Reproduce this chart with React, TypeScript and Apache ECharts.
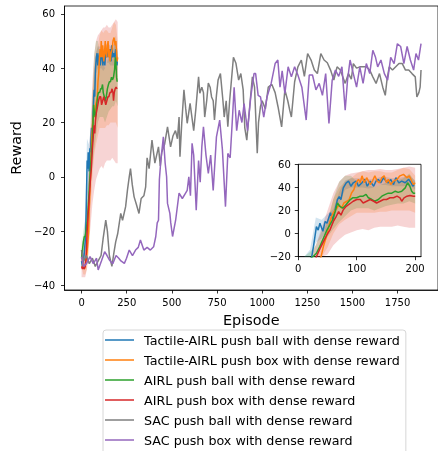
import React, { useEffect, useRef } from "react";
import * as echarts from "echarts";

// ---------- data (episode, reward) ----------
const seriesNames = [
  "Tactile-AIRL push ball with dense reward",
  "Tactile-AIRL push box with dense reward",
  "AIRL push ball with dense reward",
  "AIRL push box with dense reward",
  "SAC push ball with dense reward",
  "SAC push box with dense reward",
];

const tactileBall: [number, number][] = [
  [0,-31],[5,-33],[10,-31],[15,-28],[20,-24],[23,-20],[26,-11],[31,6],[34,3],[37,9],[42,2],[46,10.5],[49,9],[51,12],[55,18],[59,12],[63,20.7],[67,29.5],[70,32],[73,29.5],[77,39.6],[82,44],[86,45.5],[90,41],[94,44],[99,45.5],[103,41],[109,44],[114,47],[118,41],[123,45.5],[129,41],[133,45.5],[137,47],[141,44],[146,48.4],[150,45.5],[154,44],[158,47],[163,42.5],[167,48.4],[172,44],[177,45.5],[183,44],[189,47],[193,44],[196,41],[198,42.5],
];
const tactileBox: [number, number][] = [
  [0,-27],[5,-31],[10,-33],[15,-34],[20,-33],[25,-31],[30,-28],[35,-24],[39,-20],[43,-11],[49,-1],[53,7.6],[57,15],[61,19],[66,22],[70,25],[74,22],[78,26.5],[83,28],[87,29.5],[91,35],[95,38],[99,44],[103,47],[106,44],[109,50],[113,44],[117,48.4],[123,42.5],[127,45.5],[131,50],[135,45.5],[139,44],[143,48.4],[147,50],[151,44],[154,47],[158,42.5],[163,45.5],[169,47],[174,50],[180,51.3],[186,48.4],[190,50],[194,45.5],[197,42.5],[200,44],
];
const airlBall: [number, number][] = [
  [0,-30],[5,-27],[10,-24],[15,-22],[20,-22],[25,-20],[31,-17],[37,-11],[43,-4],[49,3],[54,7.6],[59,12],[63,19],[67,26.5],[71,23.6],[76,22],[80,24],[84,26.5],[89,29.5],[93,31],[100,31],[106,32.4],[111,32.4],[116,34],[120,31],[126,29.5],[131,28],[137,29.5],[143,32.4],[149,34],[154,35],[160,35],[166,36.7],[171,35.7],[177,36.7],[183,39.6],[187,44],[191,41],[194,36.7],[197,35],[200,35],
];
const airlBox: [number, number][] = [
  [0,-33],[5,-34],[10,-33],[15,-34],[20,-33],[25,-30],[31,-20],[37,-13],[43,-7],[49,-1],[54,3],[60,10.5],[65,15],[69,19],[73,16],[77,20.7],[82,23.6],[86,25],[90,26.5],[94,28],[100,29.5],[106,29.5],[111,26.5],[117,28],[123,29.5],[129,28],[134,26.5],[140,28],[146,29.5],[151,29.5],[157,31],[163,31],[169,32.4],[174,31],[177,28],[181,31],[186,32.4],[191,33],[197,32.4],[200,32.4],
];
const sacBall: [number, number][] = [
  [0,-27],[11,-31],[27,-29],[43,-32],[60,-30],[76,-33],[92,-31],[108,-29],[119,-23],[134,-16],[143,-20],[154,-29],[168,-33],[179,-28],[189,-24],[200,-21],[217,-13.5],[227,-16],[244,-11],[254,-5],[264,0],[271,3],[281,-3],[291,-7.4],[303,-10],[318,-13.5],[330,-8],[345,-7],[355,-3.7],[363,7],[374,3],[390,13.5],[406,5],[426,11],[436,4],[444,9],[460,12],[476,18.4],[493,11],[506,15],[520,17],[531,14],[540,22],[545,7.4],[555,20],[567,32],[577,25],[585,19.7],[601,27],[621,17],[633,25],[648,36.8],[655,30.8],[666,33],[675,31],[682,22],[693,28],[702,34.5],[712,33],[720,29.4],[729,28],[736,20.9],[747,30],[756,35.6],[769,38],[783,28],[790,22],[801,28],[810,18.4],[820,28],[828,34],[841,44],[855,41.8],[870,35.6],[882,38],[895,32],[904,18],[915,13.5],[926,22],[946,36.8],[958,33],[973,8.7],[980,20],[991,26],[1000,28],[1018,25],[1034,33],[1054,34],[1072,31],[1088,25.8],[1108,18.4],[1126,32],[1142,28],[1153,24.5],[1162,22],[1180,35],[1198,40.5],[1217,43],[1234,37],[1252,45.4],[1271,43],[1289,39.3],[1306,38],[1325,45.4],[1343,43],[1361,42],[1379,39.3],[1397,35.6],[1415,40.5],[1433,39.3],[1451,36],[1460,34.4],[1478,38],[1494,36],[1505,41.7],[1523,40],[1541,40.5],[1559,40.5],[1577,40.5],[1596,39.3],[1613,36.8],[1631,34.4],[1650,38],[1668,33],[1682,30],[1692,36],[1704,40.5],[1722,39.3],[1740,40.5],[1758,41.7],[1776,41.7],[1794,39.3],[1812,39.3],[1830,38],[1848,36.8],[1857,29.4],[1868,31],[1875,33],[1880,39.3],
];
const sacBox: [number, number][] = [
  [0,-29.4],[11,-33],[27,-32],[47,-29.4],[65,-32],[83,-30],[92,-34.3],[110,-31],[128,-27.6],[141,-29],[155,-30.7],[173,-32],[191,-29],[206,-30],[218,-31],[237,-31.9],[249,-30],[264,-27],[282,-29],[299,-27],[314,-26],[326,-23.3],[345,-27],[363,-26],[381,-27],[399,-25.8],[411,-22],[419,-17],[426,-16],[431,-1],[439,6],[453,14.7],[463,5],[471,0],[476,-9.8],[489,-13.5],[494,-17],[504,-22],[521,-16],[540,-6],[558,-8],[576,-6],[585,-5],[594,0],[603,-7],[612,12.3],[621,8],[630,-5],[635,-12.3],[648,6],[657,-2],[666,11],[675,18.4],[689,8],[702,1.2],[715,8],[729,-5],[747,14.7],[765,20.9],[780,10],[797,-11],[810,8.6],[823,7],[834,19.6],[845,33],[859,17],[873,24.5],[888,20],[900,27],[919,17],[937,29.4],[955,38],[964,38],[978,30],[991,29.4],[1009,22],[1027,29.4],[1050,34.4],[1072,41.7],[1087,43],[1099,33],[1111,39],[1126,30.7],[1144,40.5],[1162,36.8],[1180,40.5],[1198,37.5],[1220,33],[1244,20.9],[1261,37.5],[1279,37.5],[1298,32],[1316,34.4],[1334,30],[1352,38],[1370,19.6],[1388,35.6],[1406,39.3],[1424,37],[1442,40.5],[1460,24.5],[1473,35.6],[1487,43],[1505,38],[1523,33],[1541,40.5],[1559,34.4],[1577,41.7],[1596,38],[1613,46.6],[1628,44],[1640,40.5],[1658,43],[1677,38],[1695,35.6],[1712,44],[1731,41.7],[1749,49],[1767,48],[1785,41.7],[1803,48],[1821,43],[1839,39.3],[1852,45.4],[1866,43],[1880,49],
];

// shaded bands (episode grid shared by all bands)
const bandEp = [0,10,20,30,40,50,60,70,80,90,100,110,120,130,140,150,160,170,180,190,200];
const tactileBallLower = [-34,-34,-30,-8,-4,5,9,26,38,40,40,40,39,40,42,42,41,41,41,42,38];
const tactileBallUpper = [-28,-28,-14,14,12,17,21,36,46,48,48,48,47,47,49,49,48,48,49,50,46];
const tactileBoxLower = [-33,-36,-36,-34,-28,-12,0,8,12,15,18,18,18,18,19,19,20,20,20,20,18];
const tactileBoxUpper = [-22,-28,-28,-20,-8,12,30,40,45,48,52,54,53,54,54,53,53,55,57,56,50];
const airlBallLower = [-33,-30,-28,-22,-12,-3,4,10,15,20,22,22,22,20,22,24,25,26,26,28,26];
const airlBallUpper = [-26,-20,-16,-10,2,10,30,45,50,50,45,44,42,40,42,44,45,46,48,52,45];
const airlBoxLower = [-37,-37,-37,-34,-25,-18,-10,-5,-1,1,3,4,3,5,6,6,6,7,6,5,5];
const airlBoxUpper = [-29,-29,-28,-10,5,20,35,45,50,52,53,54,55,55,56,55,55,56,57,58,57];

// tick labels
const mainXTicks = [0, 250, 500, 750, 1000, 1250, 1500, 1750];
const mainYTicks = [-40, -20, 0, 20, 40, 60];
const insetXTicks = [0, 100, 200];
const insetYTicks = [-20, 0, 20, 40, 60];

const colors = ["#1f77b4", "#ff7f0e", "#2ca02c", "#d62728", "#7f7f7f", "#9467bd"];
const FONT = "DejaVu Sans";

const fmt = (v: number) => String(v).replace("-", "\u2212");

function bandSeries(lower: number[], upper: number[], color: string, gi: number) {
  return {
    type: "custom",
    xAxisIndex: gi,
    yAxisIndex: gi,
    silent: true,
    z: 1,
    data: [[0, 0]],
    renderItem: (params: any, api: any) => {
      const cs = params.coordSys;
      const cl = (p: number[]) => [
        Math.min(Math.max(p[0], cs.x), cs.x + cs.width),
        Math.min(Math.max(p[1], cs.y), cs.y + cs.height),
      ];
      const pts: number[][] = [];
      for (let i = 0; i < bandEp.length; i++) pts.push(cl(api.coord([bandEp[i], upper[i]])));
      for (let i = bandEp.length - 1; i >= 0; i--) pts.push(cl(api.coord([bandEp[i], lower[i]])));
      return {
        type: "polygon",
        shape: { points: pts },
        style: { fill: color, opacity: 0.2, stroke: "none" },
      };
    },
  };
}

function lineSeries(name: string, data: [number, number][], color: string, gi: number, z: number) {
  return {
    type: "line",
    name,
    xAxisIndex: gi,
    yAxisIndex: gi,
    data,
    showSymbol: false,
    symbol: "none",
    clip: true,
    silent: true,
    z,
    lineStyle: { width: 1.5, color },
    itemStyle: { color },
  };
}

function axisCommon(ticks: number[], margin: number) {
  return {
    axisLine: { show: true, onZero: false, lineStyle: { color: "#000", width: 0.8 } },
    axisTick: { show: true, inside: false, length: 3.5, customValues: ticks, lineStyle: { color: "#000", width: 0.8 } },
    axisLabel: {
      show: true,
      customValues: ticks,
      formatter: fmt,
      color: "#000",
      fontFamily: FONT,
      fontSize: 10,
      margin,
    },
    splitLine: { show: false },
  };
}

export default function App() {
  const ref = useRef<HTMLDivElement>(null);
  useEffect(() => {
    document.body.style.margin = "0";
    if (!ref.current) return;
    const chart = echarts.init(ref.current, undefined, { renderer: "svg" });
    const tBands = [
      [tactileBallLower, tactileBallUpper],
      [tactileBoxLower, tactileBoxUpper],
      [airlBallLower, airlBallUpper],
      [airlBoxLower, airlBoxUpper],
    ];
    const lines = [tactileBall, tactileBox, airlBall, airlBox];
    const series: any[] = [];
    for (const gi of [0, 1]) {
      tBands.forEach((b, i) => series.push(bandSeries(b[0], b[1], colors[i], gi)));
    }
    for (const gi of [0, 1]) {
      lines.forEach((d, i) => series.push(lineSeries(seriesNames[i], d, colors[i], gi, 3 + i)));
    }
    series.push(lineSeries(seriesNames[4], sacBall, colors[4], 0, 8));
    series.push(lineSeries(seriesNames[5], sacBox, colors[5], 0, 9));

    chart.setOption({
      animation: false,
      textStyle: { fontFamily: FONT },
      grid: [
        { left: 64.5, top: 6, right: -8.6, bottom: 161, show: true, borderColor: "#000", borderWidth: 0.8, backgroundColor: "transparent" },
        { left: 298.3, top: 164.3, width: 122.7, height: 92.4, show: true, borderColor: "#000", borderWidth: 0.8, backgroundColor: "#fff" },
      ],
      xAxis: [
        {
          type: "value", gridIndex: 0, min: -94.5, max: 1974,
          name: "Episode", nameLocation: "middle", nameGap: 23,
          nameTextStyle: { fontFamily: FONT, fontSize: 14.4, color: "#000" },
          ...axisCommon(mainXTicks, 7),
        },
        { type: "value", gridIndex: 1, min: 0, max: 210, ...axisCommon(insetXTicks, 7) },
      ],
      yAxis: [
        {
          type: "value", gridIndex: 0, min: -41.7, max: 62.9,
          name: "Reward", nameLocation: "middle", nameGap: 28, nameRotate: 90,
          nameTextStyle: { fontFamily: FONT, fontSize: 14.4, color: "#000" },
          ...axisCommon(mainYTicks, 9.5),
        },
        { type: "value", gridIndex: 1, min: -20, max: 60, ...axisCommon(insetYTicks, 7.5) },
      ],
      legend: {
        data: seriesNames,
        orient: "vertical",
        left: 103,
        top: 330,
        height: 200,
        icon: "rect",
        itemWidth: 29,
        itemHeight: 1.5,
        itemGap: 6,
        padding: [3, 6, 8, 2],
        selectedMode: false,
        backgroundColor: "#fff",
        borderColor: "#d6d6d6",
        borderWidth: 1,
        borderRadius: 3,
        textStyle: { fontFamily: FONT, fontSize: 12.7, color: "#000", lineHeight: 14, padding: [0, 0, 0, 5] },
      },
      series,
    });
    return () => chart.dispose();
  }, []);
  return (
    <div
      ref={ref}
      style={{ position: "fixed", left: 0, top: 0, width: 438, height: 451 }}
    />
  );
}
